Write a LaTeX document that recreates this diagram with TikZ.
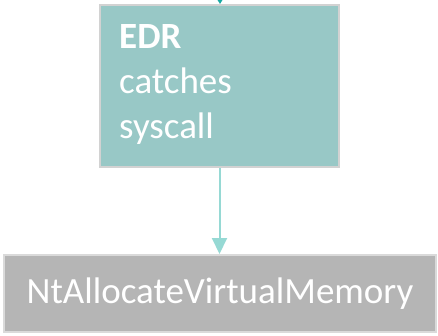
\documentclass[tikz,border=0pt]{standalone}
\usepackage{fontspec}
\setmainfont{Carlito}
\usetikzlibrary{arrows.meta}
\definecolor{tealfill}{HTML}{98C8C6}
\definecolor{tealedge}{HTML}{D2D2D2}
\definecolor{grayfill}{HTML}{B5B5B5}
\definecolor{grayedge}{HTML}{DADADA}
\definecolor{arrowlight}{HTML}{96D9D4}
\definecolor{arrowdark}{HTML}{1AA9A3}
\tikzset{
  edrbox/.style={draw=tealedge, line width=2pt, fill=tealfill, minimum width=239pt, minimum height=162pt, inner sep=0pt},
  apibox/.style={draw=grayedge, line width=2pt, fill=grayfill, minimum width=432pt, minimum height=77pt, inner sep=0pt,
    text=white, font=\fontsize{37pt}{45pt}\selectfont},
  boxtext/.style={text=white, align=left, inner sep=0pt, font=\fontsize{37pt}{45pt}\selectfont},
  flow/.style={draw=arrowlight, line width=2pt, -{Triangle[length=16pt,width=15pt]}},
  flowin/.style={draw=arrowdark, line width=2pt, -{Triangle[length=10pt,width=12pt]}}
}
\begin{document}
\begin{tikzpicture}[x=1pt,y=1pt]
\useasboundingbox (0,0) rectangle (438,-335);
\node[edrbox] (edr) at (219.5,-86) {};
\node[boxtext, anchor=base west] (edrtext) at (119,-138) {\textbf{EDR}\\catches\\syscall};
\node[apibox] (api) at (220,-293.5) {NtAllocateVirtualMemory};
\coordinate (top) at (220,12);
\draw[flowin] (top) -- (edr.north -| top);
\draw[flow] (edr.south) -- (api.north -| edr.south);
\end{tikzpicture}
\end{document}
